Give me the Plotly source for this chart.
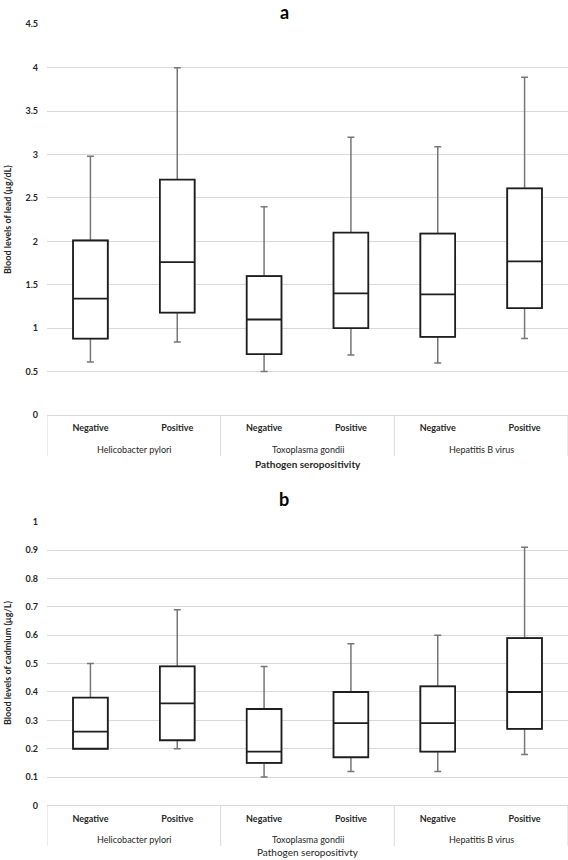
import plotly.graph_objects as go

W, H = 568, 860

# ---------------- data ----------------
groups = ["Helicobacter pylori", "Helicobacter pylori",
          "Toxoplasma gondii", "Toxoplasma gondii",
          "Hepatitis B virus", "Hepatitis B virus"]
status = ["Negative", "Positive", "Negative", "Positive", "Negative", "Positive"]

# Panel a: blood lead (µg/dL)
lead_min = [0.61, 0.84, 0.50, 0.69, 0.60, 0.88]
lead_q1 = [0.88, 1.18, 0.70, 1.00, 0.90, 1.23]
lead_median = [1.34, 1.76, 1.10, 1.40, 1.39, 1.77]
lead_q3 = [2.01, 2.71, 1.60, 2.10, 2.09, 2.61]
lead_max = [2.98, 4.00, 2.40, 3.20, 3.09, 3.89]

# Panel b: blood cadmium (µg/L)
cd_min = [0.20, 0.20, 0.10, 0.12, 0.12, 0.18]
cd_q1 = [0.20, 0.23, 0.15, 0.17, 0.19, 0.27]
cd_median = [0.26, 0.36, 0.19, 0.29, 0.29, 0.40]
cd_q3 = [0.38, 0.49, 0.34, 0.40, 0.42, 0.59]
cd_max = [0.50, 0.69, 0.49, 0.57, 0.60, 0.91]

FONT = "Lato"
WHISKER = "#767676"
BOXLINE = "#1e1e1e"
GRID = "#d9d9d9"
TXT = "#262626"


def X(px):
    return px / W


def Y(py):
    return 1 - py / H


pos = list(range(len(status)))           # category index positions
ticktext = ["<b>%s</b>" % s for s in status]

# group spans derived from the category list
group_names = []
group_pos = {}
for i, g in enumerate(groups):
    if g not in group_pos:
        group_names.append(g)
        group_pos[g] = []
    group_pos[g].append(i)
boundaries = sorted({min(v) - 0.5 for v in group_pos.values()} |
                    {max(v) + 0.5 for v in group_pos.values()})

fig = go.Figure()


def add_panel(xa, ya, lo, q1, med, q3, hi):
    # whiskers (grey, with caps)
    fig.add_trace(go.Box(
        x=pos, q1=q1, median=med, q3=q3, lowerfence=lo, upperfence=hi,
        xaxis=xa, yaxis=ya, width=0.4, whiskerwidth=0.2,
        line=dict(color=WHISKER, width=1.5), fillcolor="white",
        boxpoints=False, showlegend=False, hoverinfo="skip"))
    # boxes (black)
    fig.add_trace(go.Box(
        x=pos, q1=q1, median=med, q3=q3, lowerfence=q1, upperfence=q3,
        xaxis=xa, yaxis=ya, width=0.4, whiskerwidth=0,
        line=dict(color=BOXLINE, width=1.8), fillcolor="white",
        boxpoints=False, showlegend=False, hoverinfo="skip"))


add_panel("x", "y", lead_min, lead_q1, lead_median, lead_q3, lead_max)
add_panel("x2", "y2", cd_min, cd_q1, cd_median, cd_q3, cd_max)

xa_common = dict(
    range=[-0.5, len(pos) - 0.5], showgrid=False, showline=False,
    zeroline=False, tickmode="array", tickvals=pos, ticktext=ticktext,
    ticks="", ticklabelstandoff=6,
    tickfont=dict(family=FONT, size=9, color=TXT), automargin=False,
    fixedrange=True)
ya_common = dict(
    showgrid=True, gridcolor=GRID, gridwidth=1, zeroline=True,
    zerolinecolor=GRID, zerolinewidth=1, showline=False, ticks="",
    tickfont=dict(family=FONT, size=9, color=TXT, weight="bold"),
    ticklabelstandoff=8, automargin=False, fixedrange=True)

# panel geometry (pixels)
panels = [
    dict(xa="x", ya="y", top=24.3, bottom=415, rng=[0, 4.5], dtick=0.5,
         div_bottom=456, grp_y=449),
    dict(xa="x2", ya="y2", top=521.7, bottom=805.5, rng=[0, 1], dtick=0.1,
         div_bottom=846, grp_y=839),
]

layout = dict(width=W, height=H, margin=dict(l=0, r=0, t=0, b=0),
              paper_bgcolor="white", plot_bgcolor="white", boxmode="overlay",
              font=dict(family=FONT, color=TXT))
shapes = []
ann = []
for i, p in enumerate(panels):
    sfx = "" if i == 0 else "2"
    layout["xaxis" + sfx] = dict(domain=[X(47), 1], anchor=p["ya"], **xa_common)
    layout["yaxis" + sfx] = dict(domain=[Y(p["bottom"]), Y(p["top"])],
                                 anchor=p["xa"], range=p["rng"],
                                 dtick=p["dtick"], **ya_common)
    for b in boundaries:
        shapes.append(dict(type="line", xref=p["xa"], yref="paper",
                           x0=b, x1=b, y0=Y(p["bottom"]), y1=Y(p["div_bottom"]),
                           line=dict(color=GRID, width=1)))
    for g in group_names:
        ann.append(dict(text=g, xref=p["xa"], yref="paper",
                        x=sum(group_pos[g]) / len(group_pos[g]),
                        y=Y(p["grp_y"]), font=dict(size=9)))

ann += [
    dict(text="<b>a</b>", x=X(284), y=Y(11.5), font=dict(size=18, color="black")),
    dict(text="<b>b</b>", x=X(284), y=Y(499), font=dict(size=18, color="black")),
    dict(text="<b>Pathogen seropositivity</b>", x=X(307.5), y=Y(464),
         font=dict(size=10)),
    dict(text="Pathogen seropositivty", x=X(307.5), y=Y(852),
         font=dict(size=10)),
    dict(text="<b>Blood levels of lead (µg/dL)</b>", x=X(7), y=Y(220),
         textangle=-90, font=dict(size=9)),
    dict(text="<b>Blood levels of cadmium (µg/L)</b>", x=X(7), y=Y(663),
         textangle=-90, font=dict(size=9)),
]
for a in ann:
    a.setdefault("xref", "paper")
    a.setdefault("yref", "paper")
    a.update(showarrow=False, xanchor="center", yanchor="middle")
    a["font"].setdefault("color", TXT)
    a["font"]["family"] = FONT

layout["shapes"] = shapes
layout["annotations"] = ann
fig.update_layout(**layout)

fig.write_html("out.html",
               config={"displayModeBar": False, "staticPlot": True},
               post_script="document.body.style.margin='0';"
                           "document.body.style.overflow='hidden';")
